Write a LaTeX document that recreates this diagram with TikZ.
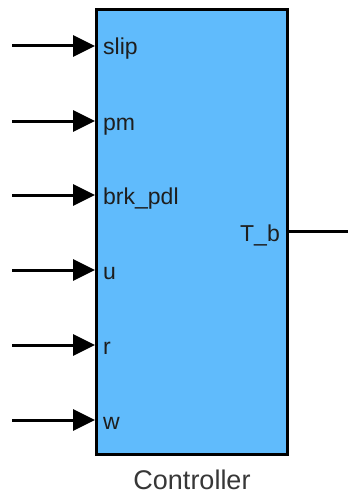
\documentclass[tikz,border=0pt]{standalone}
\usepackage{fontspec}
\setmainfont{Liberation Sans}
\usetikzlibrary{arrows.meta}
\definecolor{blockblue}{RGB}{96,187,252}
\definecolor{labelgray}{RGB}{30,30,30}
\definecolor{namegray}{RGB}{55,55,55}
\tikzset{
  portlabel/.style={anchor=base west,inner sep=0pt,font=\fontsize{23}{26}\selectfont,text=labelgray},
  inarrow/.style={line width=3pt,-{Triangle[length=22pt,width=21pt]}},
  outline/.style={line width=3pt}
}
\begin{document}
\begin{tikzpicture}[x=1pt,y=-1pt]
\useasboundingbox (0,0) rectangle (348,495);
\fill[white] (0,0) rectangle (348,495);
\node[draw,line width=3pt,fill=blockblue,minimum width=191pt,minimum height=445pt,inner sep=0pt] (box) at (192,232) {};
\foreach \y/\t/\n in {46/slip/1,121/pm/2,195/brk\_pdl/3,270/u/4,345/r/5,420/w/6}{
  \coordinate (s\n) at (12,\y);
  \coordinate (p\n) at (box.west |- 0,\y);
  \draw[inarrow] (s\n) -- (p\n);
  \node[portlabel] (l\n) at (103,\y+9) {\t};
}
\node[anchor=base east,inner sep=0pt,font=\fontsize{23}{26}\selectfont,text=labelgray] (tb) at (280,241) {T\_b};
\coordinate (o1) at (box.east |- 0,231);
\coordinate (oe) at (348,231);
\draw[outline] (o1) -- (oe);
\node[anchor=base,inner sep=0pt,font=\fontsize{27}{30}\selectfont,text=namegray] (name) at (192,489) {Controller};
\end{tikzpicture}
\end{document}
